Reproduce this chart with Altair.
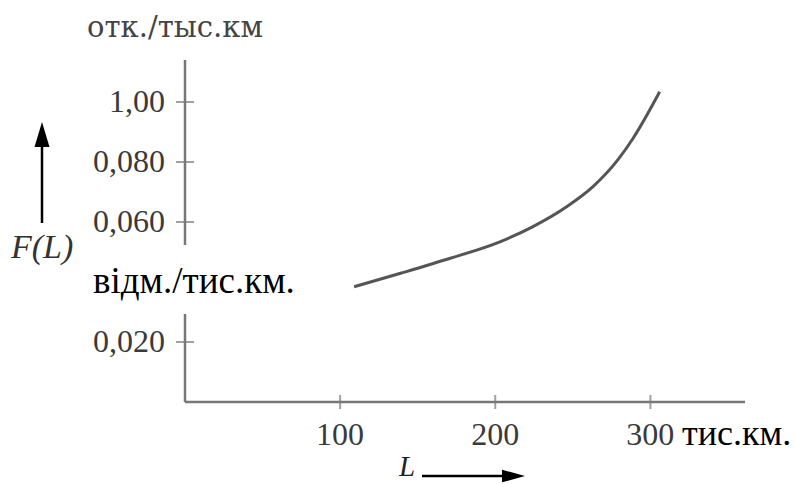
import altair as alt
import pandas as pd

# Curve F(L)
curve_L = [109, 139, 171, 203, 224, 246, 263, 279, 289, 306]
curve_F = [0.0384, 0.0429, 0.0479, 0.0534, 0.0584, 0.0651, 0.0718, 0.0807, 0.0880, 0.1034]

# Axis ticks and labels
y_tick_values = [0.02, 0.04, 0.06, 0.08, 0.10]
y_label_values = [0.02, 0.06, 0.08, 0.10]
y_label_texts = ["0,020", "0,060", "0,080", "1,00"]
x_tick_values = [100, 200, 300]
x_label_texts = ["100", "200", "300"]

# Annotation texts
y_unit_top = "отк./тыс.км"
y_unit_box = "відм./тис.км."
x_unit = "тис.км."
y_name = "F(L)"
x_name = "L"

X_DOMAIN = [0, 361]
Y_DOMAIN = [0, 0.114]
W, H = 560, 342
SERIF = "Liberation Serif"
AXIS_GRAY = "#777777"
LABEL_GRAY = "#3a3a3a"

xs = alt.Scale(domain=X_DOMAIN, nice=False, zero=False)
ys = alt.Scale(domain=Y_DOMAIN, nice=False, zero=False)

curve_df = pd.DataFrame({"L": curve_L, "F": curve_F})
ytick_df = pd.DataFrame({"L": [0] * len(y_tick_values), "F": y_tick_values})
ylab_df = pd.DataFrame({"F": y_label_values, "t": y_label_texts})
xtick_df = pd.DataFrame({"L": x_tick_values, "F": [0] * len(x_tick_values)})
xlab_df = pd.DataFrame({"L": x_tick_values, "t": x_label_texts})
yaxis_df = pd.DataFrame({"L": [0], "F": [Y_DOMAIN[0]], "F2": [Y_DOMAIN[1]]})
xaxis_df = pd.DataFrame({"L": [X_DOMAIN[0]], "L2": [X_DOMAIN[1]], "F": [0]})
one = pd.DataFrame({"k": [0]})

yaxis_line = alt.Chart(yaxis_df).mark_rule(color=AXIS_GRAY, strokeWidth=2.5).encode(
    x=alt.X("L:Q", scale=xs, axis=None),
    y=alt.Y("F:Q", scale=ys, axis=None), y2="F2:Q")

xaxis_line = alt.Chart(xaxis_df).mark_rule(color=AXIS_GRAY, strokeWidth=2.5).encode(
    x=alt.X("L:Q", scale=xs, axis=None), x2="L2:Q",
    y=alt.Y("F:Q", scale=ys, axis=None))

yticks = alt.Chart(ytick_df).mark_tick(orient="horizontal", size=18, thickness=2,
                                       color=AXIS_GRAY).encode(
    x=alt.X("L:Q", scale=xs, axis=None), y=alt.Y("F:Q", scale=ys, axis=None))

xticks = alt.Chart(xtick_df).mark_tick(orient="vertical", size=14, thickness=2,
                                       color=AXIS_GRAY).encode(
    x=alt.X("L:Q", scale=xs, axis=None), y=alt.Y("F:Q", scale=ys, axis=None))

ylabels = alt.Chart(ylab_df).mark_text(font=SERIF, fontSize=32, align="right",
                                       baseline="middle", color=LABEL_GRAY).encode(
    x=alt.value(-20), y=alt.Y("F:Q", scale=ys, axis=None), text="t:N")

xlabels = alt.Chart(xlab_df).mark_text(font=SERIF, fontSize=32, align="center",
                                       baseline="top", color=LABEL_GRAY).encode(
    x=alt.X("L:Q", scale=xs, axis=None), y=alt.value(H + 18), text="t:N")

line = alt.Chart(curve_df).mark_line(color="#555555", strokeWidth=3,
                                     interpolate="monotone").encode(
    x=alt.X("L:Q", scale=xs, axis=None), y=alt.Y("F:Q", scale=ys, axis=None))

box = alt.Chart(one).mark_rect(color="white").encode(
    x=alt.value(-97), x2=alt.value(169), y=alt.value(185), y2=alt.value(254))

box_text = alt.Chart(one).mark_text(font=SERIF, fontSize=37, align="left",
                                    baseline="alphabetic", color="black").encode(
    x=alt.value(-92), y=alt.value(233), text=alt.value(y_unit_box))

top_text = alt.Chart(one).mark_text(font="DejaVu Serif", fontSize=29, align="center",
                                    baseline="alphabetic", color="#444444").encode(
    x=alt.value(-10), y=alt.value(-23), text=alt.value(y_unit_top))

xunit_text = alt.Chart(one).mark_text(font=SERIF, fontSize=36, align="left",
                                      baseline="alphabetic", color="black").encode(
    x=alt.value(497), y=alt.value(385), text=alt.value(x_unit))

fl_text = alt.Chart(one).mark_text(font=SERIF, fontSize=34, fontStyle="italic",
                                   align="left", baseline="alphabetic",
                                   color="#333333").encode(
    x=alt.value(-174), y=alt.value(198), text=alt.value(y_name))

l_text = alt.Chart(one).mark_text(font=SERIF, fontSize=29, fontStyle="italic",
                                  align="left", baseline="alphabetic",
                                  color="#222222").encode(
    x=alt.value(214), y=alt.value(416), text=alt.value(x_name))

up_shaft = alt.Chart(one).mark_rule(color="black", strokeWidth=2.5).encode(
    x=alt.value(-143), y=alt.value(163), y2=alt.value(78))
up_head = alt.Chart(one).mark_point(shape="M0,-1L0.6,1L-0.6,1Z", size=625,
                                    filled=True, color="black", opacity=1).encode(
    x=alt.value(-143), y=alt.value(74.5))

right_shaft = alt.Chart(one).mark_rule(color="black", strokeWidth=2.5).encode(
    x=alt.value(237), x2=alt.value(322), y=alt.value(416))
right_head = alt.Chart(one).mark_point(shape="M1,0L-1,-0.55L-1,0.55Z", size=529,
                                       filled=True, color="black", opacity=1).encode(
    x=alt.value(328.5), y=alt.value(416))

chart = alt.layer(
    yaxis_line, xaxis_line, yticks, xticks, line, ylabels, xlabels, box, box_text,
    top_text, xunit_text, fl_text, l_text, up_shaft, up_head, right_shaft, right_head,
).properties(
    width=W, height=H,
    background="white",
    autosize=alt.AutoSizeParams(type="none"),
    padding={"left": 185, "top": 60, "right": 50, "bottom": 82},
).configure_view(strokeWidth=0, stroke="transparent")

chart.save("out.html", embed_options={"renderer": "svg", "actions": False})
